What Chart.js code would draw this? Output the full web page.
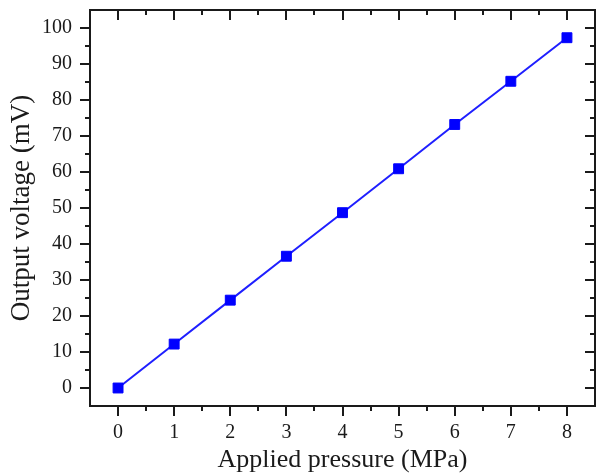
<!DOCTYPE html>
<html>
<head>
<meta charset="utf-8">
<script src="https://cdn.jsdelivr.net/npm/chart.js@4/dist/chart.umd.min.js"></script>
<style>
  html, body { margin: 0; padding: 0; background: #fff; }
  #wrap { width: 596px; height: 476px; }
</style>
</head>
<body>
<div id="wrap"><canvas id="pressureChart" width="596" height="476"></canvas></div>
<script>
const pressure = [0, 1, 2, 3, 4, 5, 6, 7, 8];
const voltage = [0, 12.2, 24.4, 36.6, 48.7, 60.9, 73.2, 85.2, 97.3];
const xTicks = [0, 1, 2, 3, 4, 5, 6, 7, 8];
const yTicks = [0, 10, 20, 30, 40, 50, 60, 70, 80, 90, 100];

const serif = 'Liberation Serif';
const ink = '#1a1a1a';

// frame around the plot plus major / minor tick marks (out on left & bottom, in on top & right)
const frameTicks = {
    id: 'frameTicks',
    afterDraw(chart) {
        const { ctx, chartArea: a, scales: { x, y } } = chart;
        const major = 10, minor = 5;
        ctx.save();
        ctx.strokeStyle = ink;
        ctx.lineWidth = 2;
        ctx.strokeRect(a.left, a.top, a.right - a.left, a.bottom - a.top);
        ctx.beginPath();
        for (let v = x.min; v <= x.max + 1e-9; v += 0.5) {
            if (v === x.min || v === x.max) continue;
            const px = Math.round(x.getPixelForValue(v));
            const len = Number.isInteger(v) ? major : minor;
            ctx.moveTo(px, a.bottom); ctx.lineTo(px, a.bottom + len);
            ctx.moveTo(px, a.top); ctx.lineTo(px, a.top + len);
        }
        for (let v = y.min; v <= y.max + 1e-9; v += 5) {
            if (v === y.min || v === y.max) continue;
            const py = Math.round(y.getPixelForValue(v));
            const len = v % 10 === 0 ? major : minor;
            ctx.moveTo(a.left, py); ctx.lineTo(a.left - len, py);
            ctx.moveTo(a.right, py); ctx.lineTo(a.right - len, py);
        }
        ctx.stroke();
        ctx.restore();
    }
};

new Chart(document.getElementById('pressureChart').getContext('2d'), {
    type: 'line',
    data: {
        labels: pressure,
        datasets: [{
            data: pressure.map((p, i) => ({ x: p, y: voltage[i] })),
            borderColor: '#1f1fff',
            backgroundColor: '#0000ff',
            borderWidth: 2,
            pointStyle: 'rect',
            pointRadius: 7,
            pointBorderWidth: 1,
            pointBorderColor: '#0000ff',
            tension: 0
        }]
    },
    options: {
        responsive: false,
        animation: false,
        layout: {
            autoPadding: false,
            padding: { top: 10, right: 1, left: 0, bottom: 0 }
        },
        plugins: {
            legend: { display: false },
            tooltip: { enabled: false }
        },
        scales: {
            x: {
                type: 'linear',
                min: -0.5,
                max: 8.5,
                afterBuildTicks: s => { s.ticks = xTicks.map(v => ({ value: v })); },
                afterFit: s => {
                    s.height = 70;
                    s.paddingLeft = 0;
                    s.paddingRight = 0;
                },
                grid: { display: false, drawTicks: false },
                border: { display: false },
                ticks: {
                    padding: 15,
                    color: ink,
                    font: { family: serif, size: 20 }
                },
                title: {
                    display: true,
                    text: 'Applied pressure (MPa)',
                    color: ink,
                    font: { family: serif, size: 26 },
                    padding: { top: 0, bottom: 0 }
                }
            },
            y: {
                min: -5,
                max: 105,
                afterBuildTicks: s => { s.ticks = yTicks.map(v => ({ value: v })); },
                afterFit: s => {
                    s.width = 90;
                    s.paddingTop = 0;
                    s.paddingBottom = 0;
                },
                grid: { display: false, drawTicks: false },
                border: { display: false },
                ticks: {
                    padding: 18,
                    color: ink,
                    font: { family: serif, size: 20 }
                },
                title: {
                    display: true,
                    text: 'Output voltage (mV)',
                    color: ink,
                    font: { family: serif, size: 27 },
                    padding: { top: 6, bottom: 0 }
                }
            }
        }
    },
    plugins: [frameTicks]
});
</script>
</body>
</html>
